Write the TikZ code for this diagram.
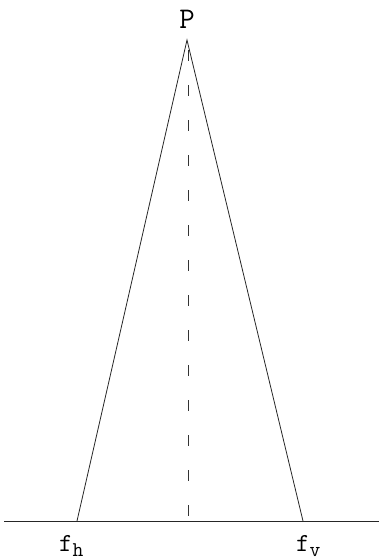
\documentclass[tikz,border=0pt]{standalone}
\usepackage{tikz}
\usetikzlibrary{positioning}

\newcommand{\lowsub}[1]{\raisebox{-5pt}{\fontsize{21}{24}\selectfont #1}}

\begin{document}
\begin{tikzpicture}[
  x=1pt, y=-1pt,
  edge/.style={line width=0.8pt, color=black!85},
  axisline/.style={dash pattern=on 11pt off 24pt, line width=0.8pt, color=black!80},
  lbl/.style={font=\ttfamily\fontsize{26}{30}\selectfont, inner sep=0pt},
  toplbl/.style={font=\ttfamily\fontsize{30}{34}\selectfont, inner sep=0pt},
]
  \useasboundingbox (0,0) rectangle (379,560);

% ===== the triangle =====
  \coordinate (apex) at (187,40);
  \coordinate (fh) at (77,521);
  \coordinate (fv) at (303,521);
  \coordinate (foot) at (188,521);
  \coordinate (baseL) at (4,521);
  \coordinate (baseR) at (379,521);

  \draw[edge] (baseL) -- (baseR);
  \draw[edge] (fh) -- (apex) -- (fv);
  \draw[axisline] (apex) ++(1,10) -- (foot);

% ===== labels =====
  \node[toplbl, anchor=base] (Plbl) at (187,28) {P};
  \node[lbl, anchor=base west] (fhlbl) at (59,551) {f\lowsub{h}};
  \node[lbl, anchor=base west] (fvlbl) at (296,551) {f\lowsub{v}};
\end{tikzpicture}
\end{document}
